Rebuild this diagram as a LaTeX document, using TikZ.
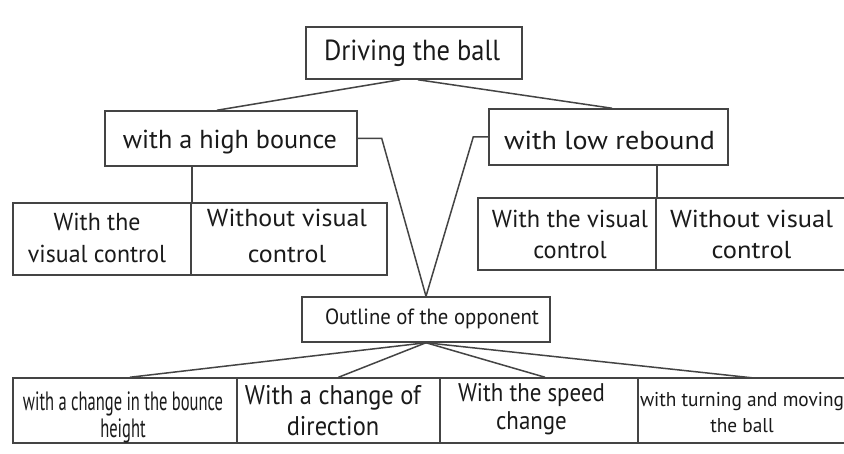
\documentclass[tikz,border=0pt]{standalone}
\usepackage{fontspec}
\setmainfont{PT Sans}
\usepackage{graphicx}
\definecolor{linec}{HTML}{444444}
\definecolor{textc}{HTML}{1A1A1A}
\newcommand\ftext[4]{\resizebox{#1pt}{\height}{\fontsize{#2}{#3}\selectfont\begin{tabular}[t]{@{}c@{}}#4\end{tabular}}}
\begin{document}
\begin{tikzpicture}[x=1pt,y=-1pt,
  box/.style={draw=linec,line width=1.5pt,inner sep=0pt},
  cell/.style={inner sep=0pt},
  txt/.style={anchor=base,inner sep=0pt,text=textc},
  conn/.style={draw=linec,line width=1.5pt}]
\clip (0,0) rectangle (844,454);
\fill[white] (0,0) rectangle (844,454);

% level 0
\node[box,minimum width=216pt,minimum height=52pt] (top) at (414,53) {};
\node[txt] (topt) at (412,61) {\ftext{176}{29}{30}{Driving the ball}};

% level 1
\node[box,minimum width=252pt,minimum height=55pt] (hb) at (231,138.5) {};
\node[txt] (hbt) at (230,149) {\ftext{214}{26}{28}{with a high bounce}};
\node[box,minimum width=239pt,minimum height=56pt] (lr) at (608.5,137) {};
\node[txt] (lrt) at (609.5,150) {\ftext{211}{26}{28}{with low rebound}};

% level 2 left
\node[box,minimum width=178pt,minimum height=72pt] (l1) at (102,239) {};
\node[txt] (l1t) at (97,231) {\ftext{138}{24.5}{32}{With the\\visual control}};
\node[box,minimum width=196pt,minimum height=72pt] (l2) at (289,239) {};
\node[txt] (l2t) at (287,227) {\ftext{160}{24.5}{36}{Without visual\\control}};

% level 2 right
\node[box,minimum width=178pt,minimum height=72pt] (r1) at (567,234) {};
\node[txt] (r1t) at (570,228) {\ftext{156}{24.5}{31}{With the visual\\control}};
\node[cell,minimum width=194pt,minimum height=72pt] (r2) at (753,234) {};
\node[txt] (r2t) at (751.5,228) {\ftext{163}{24.5}{31}{Without visual\\control}};
\draw[conn] (r2.north west) -- (r2.north east) (r2.south west) -- (r2.south east);

% outline
\node[box,minimum width=248pt,minimum height=45pt] (op) at (426,319.5) {};
\node[txt] (opt) at (432,325) {\ftext{214}{22}{25}{Outline of the opponent}};

% bottom row
\node[box,minimum width=224pt,minimum height=65pt] (b1) at (125,410.5) {};
\node[txt] (b1t) at (123,410) {\ftext{200}{26.5}{27}{with a change in the bounce\\height}};
\node[box,minimum width=203pt,minimum height=65pt] (b2) at (338.5,410.5) {};
\node[txt] (b2t) at (333,405) {\ftext{176}{27}{30}{With a change of\\direction}};
\node[box,minimum width=198pt,minimum height=65pt] (b3) at (539,410.5) {};
\node[txt] (b3t) at (531.5,402) {\ftext{147}{25.5}{28}{With the speed\\change}};
\node[cell,minimum width=212pt,minimum height=65pt] (b4) at (744,410.5) {};
\node[txt] (b4t) at (742,407) {\ftext{204}{20}{25}{with turning and moving\\the ball}};
\draw[conn] (b4.north west) -- (b4.north east) (b4.south west) -- (b4.south east);

% connectors
\draw[conn] ([xshift=-14pt]top.south) -- ([xshift=-14pt]hb.north);
\draw[conn] ([xshift=4pt]top.south) -- ([xshift=3.5pt]lr.north);
\draw[conn] (hb.east) -- ++(24,0) -- (op.north);
\draw[conn] (lr.west) -- ++(-15,0) -- (op.north);
\draw[conn] (l1.north east |- hb.south) -- (l1.north east);
\draw[conn] (r1.north east |- lr.south) -- (r1.north east);
\draw[conn] (op.south) -- ([xshift=5pt]b1.north);
\draw[conn] (op.south) -- (b2.north);
\draw[conn] (op.south) -- ([xshift=6pt]b3.north);
\draw[conn] (op.south) -- ([xshift=8pt]b4.north);
\end{tikzpicture}
\end{document}
